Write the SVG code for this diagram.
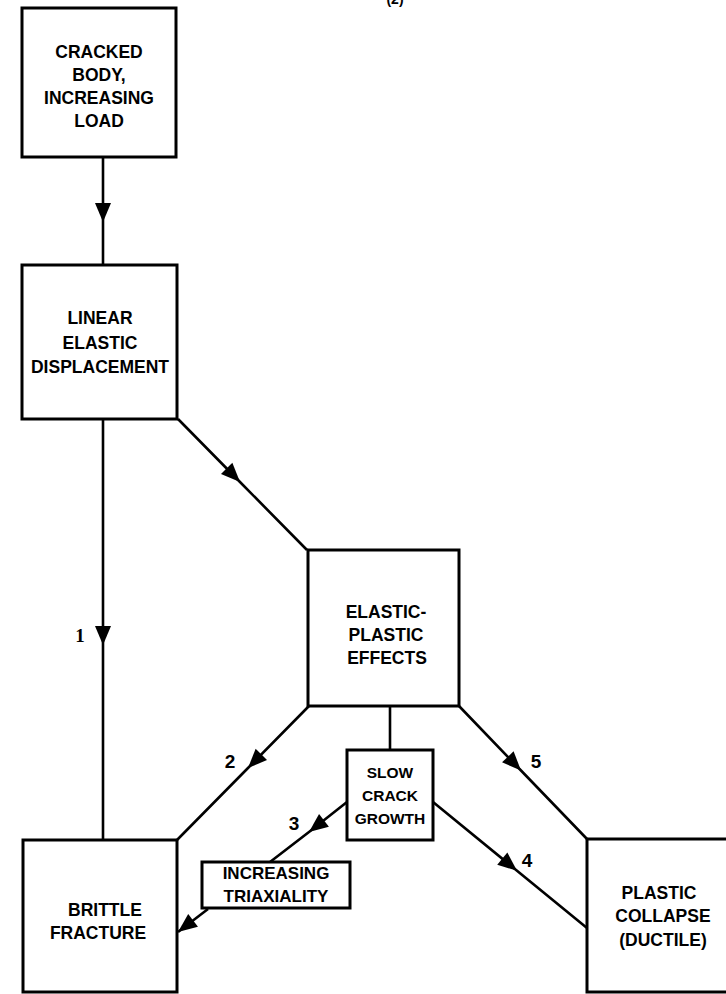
<svg xmlns="http://www.w3.org/2000/svg" width="726" height="994" viewBox="0 0 726 994">
<defs>
<marker id="ah" viewBox="-20 -9 22 18" refX="0" refY="0" markerWidth="22" markerHeight="18" markerUnits="userSpaceOnUse" orient="auto">
<path d="M0,0 L-19,-8 L-19,8 z" fill="#000"/>
</marker>
<style>
.box{fill:#fff;stroke:#000;stroke-width:3}
.t{font-family:"Liberation Sans","Arial",sans-serif;font-weight:bold;font-size:17.5px;text-anchor:middle;fill:#000}
.s{font-size:15.5px}
.m{font-size:17px}
.c{fill:none;stroke:#000;stroke-width:2.6}
.n{font-family:"Liberation Sans Narrow","Liberation Sans",sans-serif;font-weight:bold;font-size:19px;text-anchor:middle;fill:#000}
.n1{font-family:"Liberation Serif",serif;font-weight:bold;font-size:19px;text-anchor:middle;fill:#000}
</style>
</defs>
<rect width="726" height="994" fill="#fff"/>
<text x="395" y="4" class="n" style="font-size:14px">(2)</text>
<g id="connectors">
<path class="c" d="M103,157 L103,222 L103,265" marker-mid="url(#ah)"/>
<path class="c" d="M103,419 L103,645 L103,840" marker-mid="url(#ah)"/>
<path class="c" d="M178,419 L240,482 L307,550" marker-mid="url(#ah)"/>
<path class="c" d="M309,706 L248,768 L177,840" marker-mid="url(#ah)"/>
<path class="c" d="M390,706 L390,750"/>
<path class="c" d="M347,802 L309,832 L270,862" marker-mid="url(#ah)"/>
<path class="c" d="M208,909 L178,932" marker-end="url(#ah)"/>
<path class="c" d="M459,706 L521,770.5 L587,839" marker-mid="url(#ah)"/>
<path class="c" d="M433,802 L517,870.7 L587,928" marker-mid="url(#ah)"/>
<text class="n1" x="80" y="642">1</text>
<text class="n" x="230" y="768">2</text>
<text class="n" x="294" y="830">3</text>
<text class="n" x="527" y="867">4</text>
<text class="n" x="536" y="768">5</text>
</g>
<g id="cracked-body">
<rect class="box" x="22" y="8" width="154" height="149"/>
<text class="t" x="99" y="58">CRACKED</text>
<text class="t" x="99" y="81">BODY,</text>
<text class="t" x="99" y="104">INCREASING</text>
<text class="t" x="99" y="127">LOAD</text>
</g>
<g id="linear-elastic">
<rect class="box" x="22" y="265" width="155" height="154"/>
<text class="t" x="100" y="324">LINEAR</text>
<text class="t" x="100" y="349">ELASTIC</text>
<text class="t" x="100" y="373">DISPLACEMENT</text>
</g>
<g id="elastic-plastic">
<rect class="box" x="308" y="550" width="151" height="156"/>
<text class="t" x="386" y="618">ELASTIC-</text>
<text class="t" x="386" y="641">PLASTIC</text>
<text class="t" x="387" y="664">EFFECTS</text>
</g>
<g id="slow-crack">
<rect class="box" x="347" y="750" width="86" height="90"/>
<text class="t s" x="390" y="778">SLOW</text>
<text class="t s" x="390" y="801">CRACK</text>
<text class="t s" x="390" y="824">GROWTH</text>
</g>
<g id="triaxiality">
<rect class="box" x="202" y="862" width="148" height="46"/>
<text class="t m" x="276" y="879">INCREASING</text>
<text class="t m" x="276" y="902">TRIAXIALITY</text>
</g>
<g id="brittle">
<rect class="box" x="23" y="840" width="154" height="152"/>
<text class="t" x="105" y="916">BRITTLE</text>
<text class="t" x="98" y="939">FRACTURE</text>
</g>
<g id="plastic-collapse">
<rect class="box" x="587" y="839" width="150" height="153"/>
<text class="t" x="659" y="899">PLASTIC</text>
<text class="t" x="663" y="922">COLLAPSE</text>
<text class="t" x="663" y="946">(DUCTILE)</text>
</g>
</svg>
